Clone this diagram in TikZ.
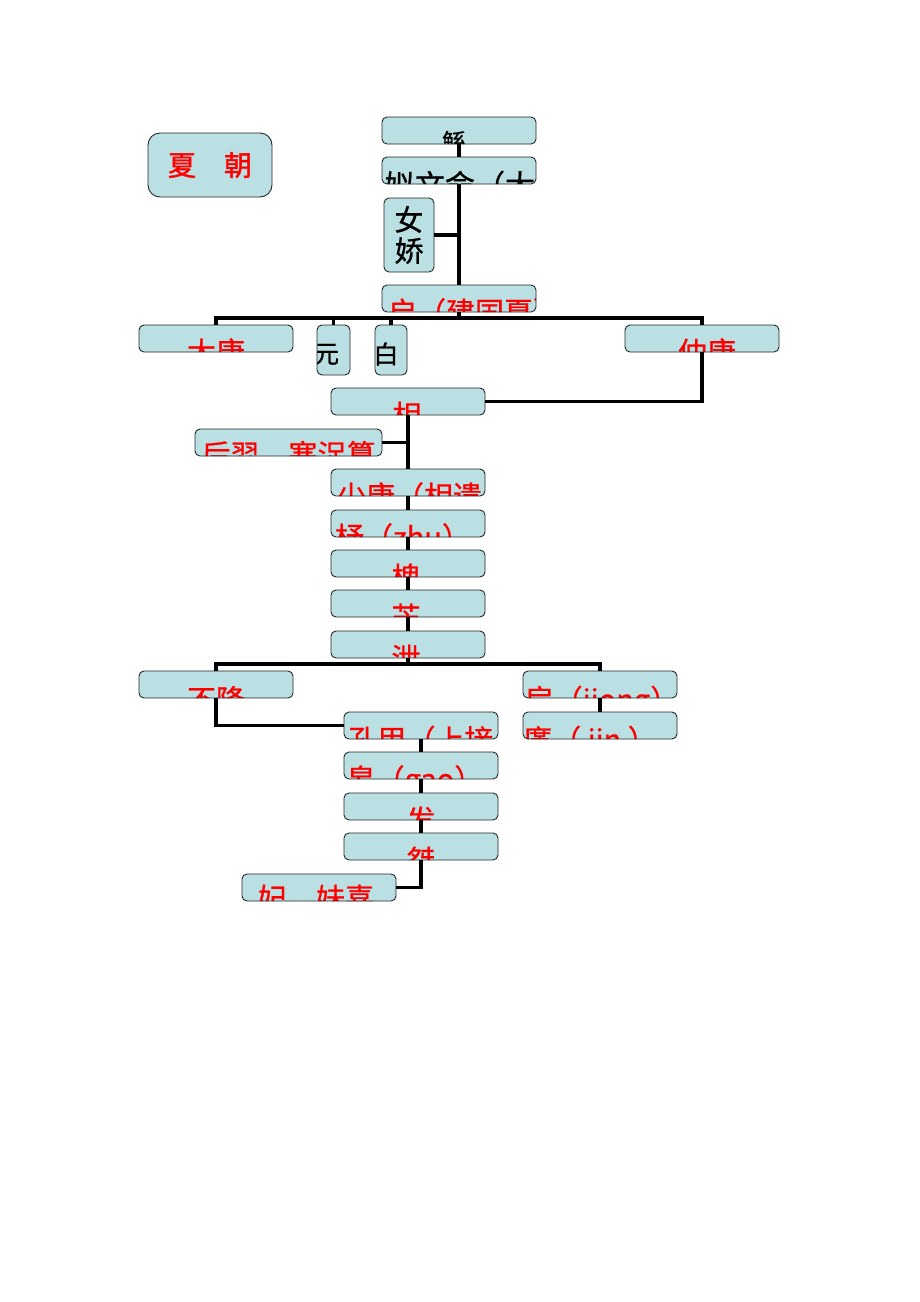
\documentclass[tikz,border=0pt]{standalone}
\usepackage{fontspec}
\newfontfamily\hei{Noto Sans CJK SC}
\newfontfamily\heib[FakeBold=1.5]{Noto Sans CJK SC}
\newfontfamily\heim[FakeBold=0.8]{Noto Sans CJK SC}
\definecolor{boxblue}{RGB}{186,224,227}
\definecolor{namered}{RGB}{255,0,0}

\begin{document}
\begin{tikzpicture}[x=1pt, y=-1pt, line width=3.2pt, every node/.style={inner sep=0pt},
	member/.style={draw=black!85, line width=0.9pt, fill=boxblue, rounded corners=5pt, minimum width=154pt, minimum height=27pt},
	slim/.style={member, minimum width=33pt, minimum height=50pt},
	cut/.style n args={5}{path picture={\node[anchor=base, text=#1, font=\heim\fontsize{#2}{#2}\selectfont] at ([shift={(#3,{#4+0.38*#2})}]path picture bounding box.south) {#5};}}]
	\useasboundingbox (0,0) rectangle (920,1302);

	\node[member, rounded corners=12pt, minimum width=124pt, minimum height=64pt, text=namered, font=\heib\fontsize{28}{28}\selectfont] (xia) at (210,165) {夏　朝};

	\node[member, cut={black}{24}{-5}{-2}{鲧}] (gun) at (459,130.5) {};
	\node[member, cut={black}{30}{1}{1}{姒文命（大}] (wenming) at (459,170.5) {};
	\node[member, minimum width=50pt, minimum height=74pt, align=center, font=\heim\fontsize{29}{31}\selectfont] (nvjiao) at (409,235) {女\\娇};
	\node[member, cut={namered}{29}{16}{0}{启（建国夏）}] (qi) at (459,298.5) {};
	\coordinate (qifork) at (459,318);

	\node[member, cut={namered}{29}{0}{0}{太康}] (taikang) at (216,338.5) {};
	\node[slim, cut={black}{25}{-7}{-21.5}{元}] (yuan) at (333.5,350) {};
	\node[slim, minimum width=32pt, cut={black}{25}{-5}{-21}{白}] (bai) at (391,350) {};
	\node[member, cut={namered}{29}{5}{0}{仲康}] (zhongkang) at (702,338.5) {};

	\node[member, cut={namered}{29}{-1}{0}{相}] (xiang) at (408,401.5) {};
	\node[member, minimum width=187pt, cut={namered}{29}{0}{-1.5}{后羿、寒浞篡}] (houyi) at (288.5,442.5) {};
	\node[member, cut={namered}{29}{1.5}{0}{少康（相遗}] (shaokang) at (408,482.5) {};
	\node[member, cut={namered}{29}{-5}{0}{杼（zhu）}] (zhu) at (408,523.5) {};
	\node[member, cut={namered}{29}{-2}{0}{槐}] (huai) at (408,563.5) {};
	\node[member, cut={namered}{29}{-2}{0}{芒}] (mang) at (408,603.5) {};
	\node[member, cut={namered}{29}{-2}{0}{泄}] (xie) at (408,644.5) {};
	\coordinate (xiefork) at (408,664);

	\node[member, cut={namered}{29}{0}{1.5}{不降}] (bujiang) at (216,684.5) {};
	\node[member, cut={namered}{29}{2}{1.5}{扃（jiong）}] (jiong) at (600,684.5) {};
	\node[member, cut={namered}{29}{0}{0.5}{孔甲（上接}] (kongjia) at (421,725.5) {};
	\node[member, cut={namered}{29}{-10}{0.5}{廑（ jin ）}] (jin) at (600,725.5) {};
	\node[member, cut={namered}{29}{-6}{0}{皋（gao）}] (gao) at (421,765.5) {};
	\node[member, cut={namered}{29}{0}{0}{发}] (fa) at (421,806.5) {};
	\node[member, cut={namered}{29}{0}{0}{桀}] (jie) at (421,846.5) {};
	\node[member, cut={namered}{29}{-3}{-3}{妃、妹喜}] (fei) at (319,887.5) {};

	% lines
	\draw (gun) -- (wenming) -- (qi);
	\draw (nvjiao) -- (nvjiao -| qi);
	\draw (qi) -- (qifork);
	\draw (taikang) |- (qifork) -| (zhongkang);
	\draw (yuan) -- (yuan |- qifork);
	\draw (bai) -- (bai |- qifork);
	\draw (zhongkang) |- (xiang);
	\draw (xiang) -- (shaokang);
	\draw (houyi) -- (houyi -| xiang);
	\draw (shaokang) -- (zhu) -- (huai) -- (mang) -- (xie) -- (xiefork);
	\draw (bujiang) |- (xiefork) -| (jiong);
	\draw (bujiang) |- (kongjia);
	\draw (jiong) -- (jin);
	\draw (kongjia) -- (gao) -- (fa) -- (jie) |- (fei);
\end{tikzpicture}
\end{document}
